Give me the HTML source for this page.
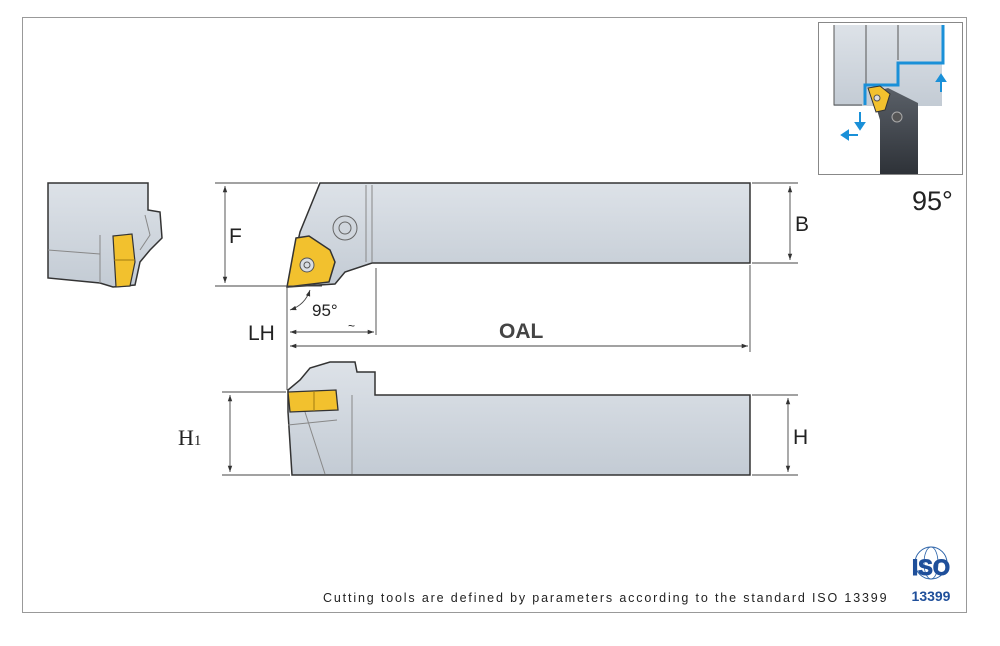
<!DOCTYPE html>
<html><head><meta charset="utf-8"><style>
body{margin:0;background:#fff;}
svg{display:block;font-family:"Liberation Sans",sans-serif;}
</style></head><body>
<svg width="1000" height="646" viewBox="0 0 1000 646" xmlns="http://www.w3.org/2000/svg">
<defs>
<linearGradient id="g" x1="0" y1="0" x2="0" y2="1"><stop offset="0" stop-color="#dde2e8"/><stop offset="1" stop-color="#c3cbd4"/></linearGradient>
<linearGradient id="dk" x1="0" y1="0" x2="0" y2="1"><stop offset="0" stop-color="#5a6068"/><stop offset="1" stop-color="#2e3238"/></linearGradient>
<marker id="a" viewBox="0 0 10 10" refX="10" refY="5" markerWidth="7" markerHeight="7" orient="auto-start-reverse"><path d="M0,1.5 L10,5 L0,8.5z" fill="#333"/></marker>
</defs>
<rect x="22.5" y="17.5" width="944" height="595" fill="#fff" stroke="#999"/>

<!-- small end view -->
<path d="M48,183 L148,183 L148,210 L160,212 L162,238 L150,250 L140,262 L135,285 L113,287 L100,283 L48,278 Z" fill="url(#g)" stroke="#333" stroke-width="1.5"/>
<path d="M48,250 L100,254 M100,235 L100,283 M145,215 L150,235 L140,250" stroke="#888" fill="none"/>
<path d="M113,236 L132,234 L135,262 L130,286 L116,287 Z" fill="#f2c12e" stroke="#333" stroke-width="1.2"/>
<path d="M114,260 L135,260" stroke="#a07a10"/>

<!-- top view -->
<path d="M320,183 L750,183 L750,263 L372,263 L345,272 L335,284 L288,287 L300,232 Z" fill="url(#g)" stroke="#333" stroke-width="1.5"/>
<path d="M372,185 L372,262 M366,185 L366,262" stroke="#888"/>
<circle cx="345" cy="228" r="12" fill="#d0d6dd" stroke="#666"/>
<circle cx="345" cy="228" r="6" fill="none" stroke="#666"/>
<path d="M296,238 L309,236 L330,250 L335,262 L329,282 L287,287 Z" fill="#f2c12e" stroke="#333" stroke-width="1.5"/>
<circle cx="307" cy="265" r="7" fill="#d8dde3" stroke="#555"/>
<circle cx="307" cy="265" r="3" fill="none" stroke="#555"/>

<!-- side view -->
<path d="M300,380 L310,368 L330,362 L355,362 L357,372 L375,372 L375,395 L750,395 L750,475 L292,475 L288,412 L288,390 Z" fill="url(#g)" stroke="#333" stroke-width="1.5"/>
<path d="M352,395 L352,474 M305,412 L325,474 M288,425 L337,420" stroke="#888" fill="none"/>
<path d="M288,392 L336,390 L338,410 L290,412 Z" fill="#f2c12e" stroke="#333" stroke-width="1.3"/>
<path d="M314,391 L314,411" stroke="#a07a10"/>

<!-- dimension lines -->
<g stroke="#444" stroke-width="0.9" fill="none">
<line x1="215" y1="183" x2="318" y2="183"/>
<line x1="215" y1="286" x2="322" y2="286"/>
<line x1="225" y1="186" x2="225" y2="283" marker-start="url(#a)" marker-end="url(#a)"/>
<line x1="752" y1="183" x2="798" y2="183"/>
<line x1="752" y1="263" x2="798" y2="263"/>
<line x1="790" y1="186" x2="790" y2="260" marker-start="url(#a)" marker-end="url(#a)"/>
<line x1="287" y1="288" x2="287" y2="390"/>
<line x1="376" y1="268" x2="376" y2="335"/>
<line x1="750" y1="265" x2="750" y2="352"/>
<line x1="290" y1="332" x2="374" y2="332" marker-start="url(#a)" marker-end="url(#a)"/>
<line x1="290" y1="346" x2="748" y2="346" marker-start="url(#a)" marker-end="url(#a)"/>
<path d="M290,310 Q305,305 310,290" marker-start="url(#a)" marker-end="url(#a)"/>
<line x1="222" y1="392" x2="286" y2="392"/>
<line x1="222" y1="475" x2="290" y2="475"/>
<line x1="230" y1="395" x2="230" y2="472" marker-start="url(#a)" marker-end="url(#a)"/>
<line x1="752" y1="395" x2="798" y2="395"/>
<line x1="752" y1="475" x2="798" y2="475"/>
<line x1="788" y1="398" x2="788" y2="472" marker-start="url(#a)" marker-end="url(#a)"/>
</g>
<g fill="#222" font-size="21">
<text x="229" y="243">F</text>
<text x="795" y="231">B</text>
<text x="312" y="316" font-size="17">95°</text>
<text x="248" y="340">LH</text>
<text x="348" y="330" font-size="12">~</text>
<text x="499" y="338" fill="#444" font-weight="bold">OAL</text>
<text x="178" y="445" font-family="Liberation Serif,serif" font-size="22">H<tspan font-size="15">1</tspan></text>
<text x="793" y="444">H</text>
</g>

<!-- inset -->
<rect x="818.5" y="22.5" width="144" height="152" fill="#fff" stroke="#888"/>
<rect x="834" y="25" width="108" height="81" fill="url(#g)"/>
<path d="M834,25 L834,105 L862,105 M866,25 L866,100 M898,25 L898,60" stroke="#555" fill="none"/>
<path d="M943,25 L943,63 L898,63 L898,85 L865,85 L865,105" stroke="#1a90d8" stroke-width="3" fill="none"/>
<path d="M872,93 L888,88 L918,103 L918,174 L880,174 L880,120 Z" fill="url(#dk)"/>
<path d="M868,88 L880,86 L890,94 L885,110 L876,112 Z" fill="#f2c12e" stroke="#333"/>
<circle cx="877" cy="98" r="3" fill="#ddd" stroke="#555"/>
<circle cx="897" cy="117" r="5" fill="#555" stroke="#aaa"/>
<g stroke="#1a90d8" stroke-width="2" fill="#1a90d8">
<line x1="860" y1="112" x2="860" y2="124"/><path d="M856,123 L864,123 L860,129z"/>
<line x1="858" y1="135" x2="848" y2="135"/><path d="M848,131 L848,139 L842,135z"/>
<line x1="941" y1="92" x2="941" y2="80"/><path d="M937,81 L945,81 L941,75z"/>
</g>
<text x="912" y="210" font-size="27" fill="#222">95°</text>

<!-- ISO -->
<circle cx="931" cy="563" r="16" fill="none" stroke="#2a62a8" stroke-width="1"/>
<ellipse cx="931" cy="563" rx="7" ry="16" fill="none" stroke="#2a62a8" stroke-width="0.8"/>
<text x="931" y="575" text-anchor="middle" font-size="22" font-weight="bold" fill="#1f4f9a" stroke="#1f4f9a" stroke-width="1" font-family="Liberation Sans,sans-serif">ISO</text>
<text x="931" y="601" text-anchor="middle" font-size="14" font-weight="bold" fill="#1f4f9a">13399</text>
<text x="323" y="602" font-size="12.5" fill="#222" letter-spacing="1.85">Cutting tools are defined by parameters according to the standard ISO 13399</text>
</svg>
</body></html>
